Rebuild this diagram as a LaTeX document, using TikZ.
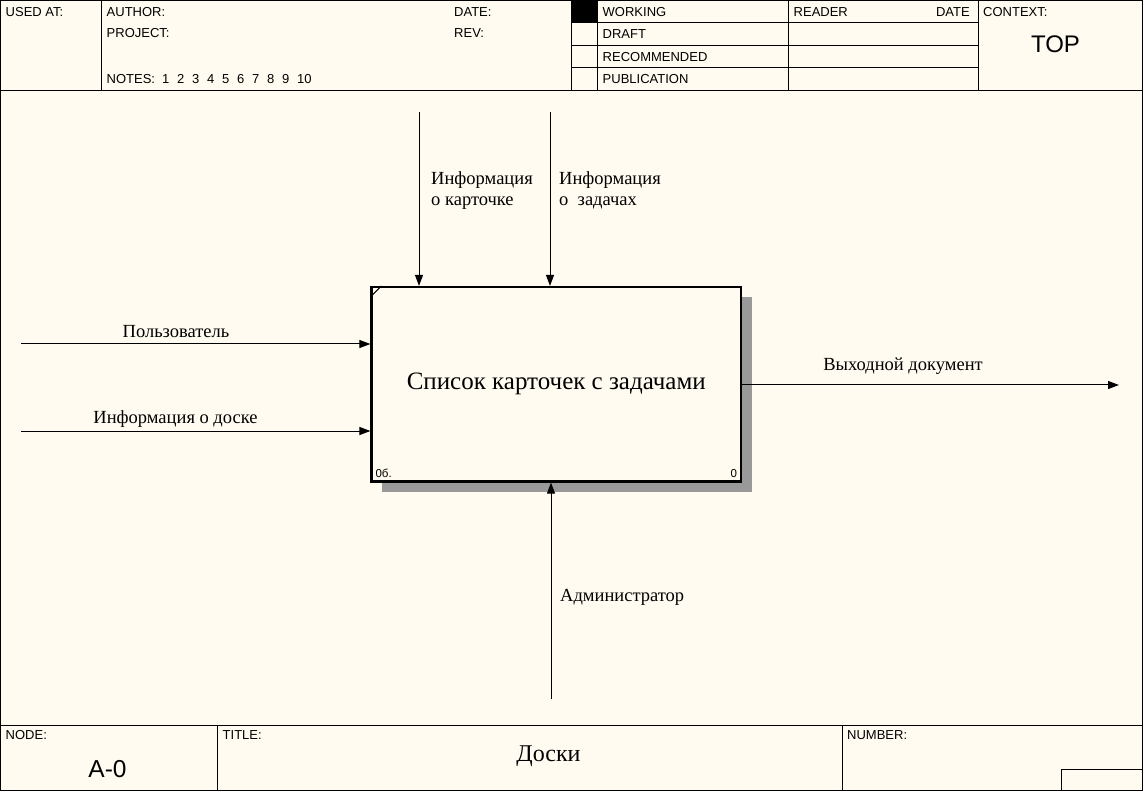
\documentclass[tikz,border=0pt]{standalone}
\usepackage{fontspec}
\setmainfont{Liberation Serif}
\setsansfont{Liberation Sans}
\usetikzlibrary{positioning}
\usetikzlibrary{arrows.meta}
\usetikzlibrary{calc}
\usetikzlibrary{shadows}

\definecolor{paper}{RGB}{255,251,240}

\tikzset{
  rule/.style={line width=1pt},
  hdr/.style={font=\sffamily\fontsize{13}{15}\selectfont, inner sep=0pt, anchor=base west},
  lbl/.style={font=\fontsize{18.5}{21.5}\selectfont, inner sep=0pt, anchor=base west, align=left},
  flow/.style={-{Triangle[length=11pt,width=8pt]}, line width=1pt},
  activity/.style={draw, line width=2.2pt, fill=paper, minimum width=369.5pt, minimum height=194.5pt,
    inner sep=0pt, font=\fontsize{25}{29}\selectfont,
    drop shadow={shadow xshift=10.5pt, shadow yshift=-10.5pt, fill=black!40, opacity=1}},
  tag/.style={font=\sffamily\fontsize{11.5}{13}\selectfont, inner sep=0pt},
}

\begin{document}
\begin{tikzpicture}[x=1pt,y=-1pt]
\fill[paper] (0,0) rectangle (1143,791);
\useasboundingbox (0,0) rectangle (1143,791);

% frame
\draw[rule] (0.5,0.5) rectangle (1142.5,790.5);
\draw[rule] (0,91) -- (1143,91);
\draw[rule] (0,725) -- (1143,725);
\foreach \x in {101.5, 571, 597, 788, 978}
	\draw[rule] (\x,0) -- (\x,91);
\foreach \y in {23, 46, 68}
	\draw[rule] (571,\y) -- (978,\y);
\fill (571,0) rectangle (597,23);
\draw[rule] (217,725) -- (217,791);
\draw[rule] (842,725) -- (842,791);
\draw[rule] (1061,791) -- (1061,769) -- (1143,769);

% header
\node[hdr] (usedat) at (5.5,17) {USED AT:};
\node[hdr] (author) at (106.5,17) {AUTHOR:};
\node[hdr] (project) at (106.5,37.5) {PROJECT:};
\node[hdr] (date) at (454,17) {DATE:};
\node[hdr] (rev) at (454,37.5) {REV:};
\node[hdr] (notes) at (106.5,84) {NOTES:};
\foreach \n [count=\i from 0] in {1,...,10}
	\node[hdr] (note\n) at (162+15*\i,84) {\n};
\node[hdr] (working) at (602.5,17) {WORKING};
\node[hdr] (draft) at (602.5,38.5) {DRAFT};
\node[hdr] (recommended) at (602.5,61.5) {RECOMMENDED};
\node[hdr] (publication) at (602.5,84) {PUBLICATION};
\node[hdr] (reader) at (793.5,17) {READER};
\node[hdr, anchor=base east] (rdate) at (970,17) {DATE};
\node[hdr] (context) at (983,17) {CONTEXT:};
\node[hdr, anchor=base, font=\sffamily\fontsize{24}{28}\selectfont] (top) at (1055.5,53) {TOP};

% footer
\node[hdr] (nodelbl) at (5.5,739) {NODE:};
\node[hdr, anchor=base, font=\sffamily\fontsize{24.5}{28}\selectfont] (nodeno) at (107.5,777) {A-0};
\node[hdr] (titlelbl) at (222.5,739) {TITLE:};
\node[anchor=base, inner sep=0pt, font=\fontsize{24}{28}\selectfont] (title) at (548.5,761) {Доски};
\node[hdr] (numberlbl) at (847,739) {NUMBER:};

% activity
\node[activity] (act) at (556.25,384.25) {Список карточек с задачами};
\draw[rule] ($(act.north west)+(0,11)$) -- ($(act.north west)+(11,0)$);
\node[tag, anchor=base west] (actref) at ($(act.south west)+(5,-5)$) {0б.};
\node[tag, anchor=base east] (actno) at ($(act.south east)+(-5,-5)$) {0};

% arrows
\coordinate (ctlA) at (419,112);
\coordinate (ctlB) at (550,112);
\coordinate (inA) at (21,344);
\coordinate (inB) at (21,431);
\coordinate (outA) at (1119,385);
\coordinate (mecA) at (551,699);
\draw[flow] (ctlA) -- (ctlA |- act.north);
\draw[flow] (ctlB) -- (ctlB |- act.north);
\draw[flow] (inA) -- (inA -| act.west);
\draw[flow] (inB) -- (inB -| act.west);
\draw[flow] (outA -| act.east) -- (outA);
\draw[flow] (mecA) -- (mecA |- act.south);

\node[lbl] (ctlAtxt) at (431,206) {Информация\\о карточке};
\node[lbl] (ctlBtxt) at (559,206) {Информация\\о\ \ задачах};
\node[lbl, anchor=base] (inAtxt) at (176,338) {Пользователь};
\node[lbl, anchor=base] (inBtxt) at (175.5,423) {Информация о доске};
\node[lbl, anchor=base] (outAtxt) at (903,371) {Выходной документ};
\node[lbl] (mecAtxt) at (560,601) {Администратор};
\end{tikzpicture}
\end{document}
